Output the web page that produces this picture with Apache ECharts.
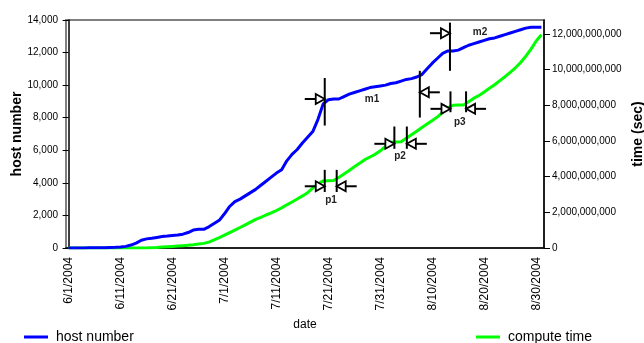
<!DOCTYPE html>
<html>
<head>
<meta charset="utf-8">
<script src="https://cdn.jsdelivr.net/npm/echarts@6/dist/echarts.min.js"></script>
<style>
html,body{margin:0;padding:0;background:#fff;}
#chart{width:644px;height:343px;}
</style>
</head>
<body>
<div id="chart"></div>
<script>
const dates = [
'6/1/2004','6/2/2004','6/3/2004','6/4/2004','6/5/2004','6/6/2004','6/7/2004','6/8/2004','6/9/2004','6/10/2004',
'6/11/2004','6/12/2004','6/13/2004','6/14/2004','6/15/2004','6/16/2004','6/17/2004','6/18/2004','6/19/2004','6/20/2004',
'6/21/2004','6/22/2004','6/23/2004','6/24/2004','6/25/2004','6/26/2004','6/27/2004','6/28/2004','6/29/2004','6/30/2004',
'7/1/2004','7/2/2004','7/3/2004','7/4/2004','7/5/2004','7/6/2004','7/7/2004','7/8/2004','7/9/2004','7/10/2004',
'7/11/2004','7/12/2004','7/13/2004','7/14/2004','7/15/2004','7/16/2004','7/17/2004','7/18/2004','7/19/2004','7/20/2004',
'7/21/2004','7/22/2004','7/23/2004','7/24/2004','7/25/2004','7/26/2004','7/27/2004','7/28/2004','7/29/2004','7/30/2004',
'7/31/2004','8/1/2004','8/2/2004','8/3/2004','8/4/2004','8/5/2004','8/6/2004','8/7/2004','8/8/2004','8/9/2004',
'8/10/2004','8/11/2004','8/12/2004','8/13/2004','8/14/2004','8/15/2004','8/16/2004','8/17/2004','8/18/2004','8/19/2004',
'8/20/2004','8/21/2004','8/22/2004','8/23/2004','8/24/2004','8/25/2004','8/26/2004','8/27/2004','8/28/2004','8/29/2004',
'8/30/2004','8/31/2004'
];

const hostNumber = [
0,0,0,0,10,10,20,20,30,40,
60,100,180,300,480,560,600,650,700,730,
770,800,850,950,1100,1150,1150,1300,1500,1700,
2100,2550,2850,3000,3200,3400,3600,3850,4100,4350,
4600,4800,5350,5750,6050,6450,6800,7150,7900,8850,
9100,9150,9150,9300,9450,9550,9650,9750,9850,9900,
9950,10000,10100,10150,10250,10350,10400,10500,10650,11000,
11350,11650,11950,12100,12100,12150,12300,12450,12550,12650,
12750,12850,12900,13000,13100,13200,13300,13400,13500,13550,
13550,13550
];

const computeTime = [
0,0,0,0,0,0,0,0,0,0,
0,0,0,0,0,0,0.02e9,0.03e9,0.05e9,0.07e9,
0.09e9,0.11e9,0.13e9,0.15e9,0.18e9,0.22e9,0.26e9,0.33e9,0.45e9,0.58e9,
0.72e9,0.86e9,1.0e9,1.15e9,1.3e9,1.45e9,1.6e9,1.72e9,1.85e9,1.97e9,
2.1e9,2.25e9,2.42e9,2.58e9,2.75e9,2.92e9,3.1e9,3.35e9,3.6e9,3.76e9,
3.77e9,3.78e9,3.95e9,4.15e9,4.35e9,4.55e9,4.75e9,4.95e9,5.1e9,5.25e9,
5.45e9,5.7e9,5.93e9,5.94e9,5.95e9,6.15e9,6.35e9,6.55e9,6.75e9,6.95e9,
7.15e9,7.35e9,7.6e9,7.85e9,8.0e9,8.01e9,8.02e9,8.2e9,8.4e9,8.55e9,
8.75e9,8.95e9,9.15e9,9.38e9,9.6e9,9.85e9,10.1e9,10.4e9,10.75e9,11.15e9,
11.6e9,11.95e9
];

// bracket markers: [day index, arrow level, line top, line bottom, direction (1 = arrow from left, -1 = arrow from right)]
const hostMarkers = [
[49.3, 9150, 10440, 7520, 1],
[67.6, 9560, 10880, 8010, -1],
[73.4, 13190, 13840, 10880, 1]
];
const timeMarkers = [
[49.3, 3.46e9, 4.38e9, 3.14e9, 1],
[51.6, 3.46e9, 4.38e9, 3.14e9, -1],
[62.7, 5.84e9, 6.81e9, 5.56e9, 1],
[65.1, 5.84e9, 6.81e9, 5.56e9, -1],
[73.5, 7.80e9, 8.78e9, 7.61e9, 1],
[76.5, 7.80e9, 8.78e9, 7.61e9, -1]
];
// marker labels: [day index, value, text]
const hostLabels = [[58.4, 9110, 'm1'], [79.2, 13225, 'm2']];
const timeLabels = [[50.5, 2.68e9, 'p1'], [63.8, 5.13e9, 'p2'], [75.3, 7.05e9, 'p3']];

const FONT = "'Liberation Sans', Arial, Helvetica, sans-serif";

function renderBracket(params, api) {
  const d = api.value(0), a = api.value(1), t = api.value(2), b = api.value(3), dir = api.value(4);
  const pa = api.coord([d, a]);
  const pt = api.coord([d, t]);
  const pb = api.coord([d, b]);
  const x = pa[0], y = pa[1];
  const baseX = x - dir * 9;
  const stemX = x - dir * 20;
  return {
    type: 'group',
    children: [
      {type: 'line', shape: {x1: x, y1: pt[1], x2: x, y2: pb[1]}, style: {stroke: '#000', lineWidth: 2}},
      {type: 'line', shape: {x1: stemX, y1: y, x2: baseX, y2: y}, style: {stroke: '#000', lineWidth: 2}},
      {type: 'polygon', shape: {points: [[x, y], [baseX, y - 5], [baseX, y + 5]]},
       style: {fill: '#fff', stroke: '#000', lineWidth: 1.8}}
    ]
  };
}
function makeLabelRenderer(arr) {
  return function (params, api) {
    const p = api.coord([api.value(0), api.value(1)]);
    return {type: 'text', x: p[0], y: p[1],
      style: {text: arr[params.dataIndex][2], font: 'bold 10px ' + FONT, fill: '#222',
              align: 'center', verticalAlign: 'middle'}};
  };
}

const chart = echarts.init(document.getElementById('chart'), null, {renderer: 'canvas'});
chart.setOption({
  animation: false,
  backgroundColor: '#fff',
  textStyle: {fontFamily: FONT},
  grid: {left: 66, right: 100, top: 20, bottom: 95, containLabel: false, outerBoundsMode: 'none',
         show: true, borderColor: '#808080', borderWidth: 2, backgroundColor: 'transparent'},
  legend: [
    {data: ['host number'], left: 19, top: 325, icon: 'rect', itemWidth: 24, itemHeight: 3,
     textStyle: {fontSize: 14, color: '#000', fontFamily: FONT, padding: [0, 0, 0, 3]}},
    {data: ['compute time'], left: 471, top: 325, icon: 'rect', itemWidth: 24, itemHeight: 3,
     textStyle: {fontSize: 14, color: '#000', fontFamily: FONT, padding: [0, 0, 0, 3]}}
  ],
  xAxis: [
    {type: 'category', data: dates, boundaryGap: true,
     name: 'date', nameLocation: 'middle', nameGap: 71, nameMoveOverlap: false,
     nameTextStyle: {fontSize: 12, color: '#000', fontFamily: FONT},
     axisLine: {lineStyle: {color: '#000', width: 1.5}},
     axisTick: {interval: 0, length: 6, lineStyle: {color: '#000', width: 1}},
     axisLabel: {interval: 9, rotate: 90, margin: 9, fontSize: 12, color: '#000', fontFamily: FONT},
     splitLine: {show: false}},
    {type: 'value', min: -0.5, max: 91.5, show: false, splitLine: {show: false}}
  ],
  yAxis: [
    {type: 'value', min: 0, max: 14000, interval: 2000,
     name: 'host number', nameLocation: 'middle', nameGap: 42, nameMoveOverlap: false,
     nameTextStyle: {fontSize: 14, fontWeight: 'bold', color: '#000', fontFamily: FONT},
     axisLine: {show: true, lineStyle: {color: '#000', width: 1.5}},
     axisTick: {show: true, length: 6, lineStyle: {color: '#000'}},
     axisLabel: {fontSize: 10, color: '#000', fontFamily: FONT, formatter: v => v.toLocaleString('en-US')},
     splitLine: {show: false}},
    {type: 'value', min: 0, max: 12.78e9, interval: 2e9, position: 'right',
     name: 'time (sec)', nameLocation: 'middle', nameGap: 87, nameRotate: 90, nameMoveOverlap: false,
     nameTextStyle: {fontSize: 14, fontWeight: 'bold', color: '#000', fontFamily: FONT},
     axisLine: {show: true, lineStyle: {color: '#000', width: 1.5}},
     axisTick: {show: true, length: 6, lineStyle: {color: '#000'}},
     axisLabel: {fontSize: 10, color: '#000', fontFamily: FONT, showMaxLabel: false,
       formatter: v => (v % 2e9 === 0 ? v.toLocaleString('en-US') : '')},
     splitLine: {show: false}}
  ],
  series: [
    {name: 'compute time', type: 'line', data: computeTime, xAxisIndex: 0, yAxisIndex: 1,
     showSymbol: false, symbol: 'none', color: '#00ff00', lineStyle: {color: '#00ff00', width: 3}, z: 2},
    {name: 'host number', type: 'line', data: hostNumber, xAxisIndex: 0, yAxisIndex: 0,
     showSymbol: false, symbol: 'none', color: '#0000ff', lineStyle: {color: '#0000ff', width: 3}, z: 3},
    {type: 'custom', xAxisIndex: 1, yAxisIndex: 0, data: hostMarkers, renderItem: renderBracket, z: 10,
     encode: {x: 0, y: 1}, silent: true, clip: false},
    {type: 'custom', xAxisIndex: 1, yAxisIndex: 1, data: timeMarkers, renderItem: renderBracket, z: 10,
     encode: {x: 0, y: 1}, silent: true, clip: false},
    {type: 'custom', xAxisIndex: 1, yAxisIndex: 0, data: hostLabels.map(r => [r[0], r[1]]),
     renderItem: makeLabelRenderer(hostLabels), z: 10, encode: {x: 0, y: 1}, silent: true},
    {type: 'custom', xAxisIndex: 1, yAxisIndex: 1, data: timeLabels.map(r => [r[0], r[1]]),
     renderItem: makeLabelRenderer(timeLabels), z: 10, encode: {x: 0, y: 1}, silent: true}
  ]
});
</script>
</body>
</html>
